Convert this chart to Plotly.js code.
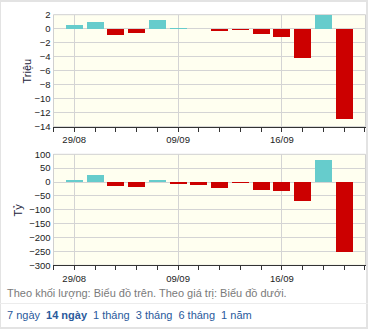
<!DOCTYPE html>
<html>
<head>
<meta charset="utf-8">
<script src="https://cdn.plot.ly/plotly-3.0.1.min.js"></script>
<style>
  html, body { margin: 0; padding: 0; background: #fff; }
  #wrap { position: relative; width: 368px; height: 329px; overflow: hidden; background: #fff;
          font-family: "Liberation Sans", Arial, sans-serif; }
  #chart { position: absolute; left: 0; top: 0; width: 368px; height: 329px; }
  .frame { position: absolute; background: #e3e3e3; }
  #note { position: absolute; left: 7px; top: 287px; font-size: 11px; color: #7a7a7a; white-space: nowrap; }
  #links { position: absolute; left: 7px; top: 309px; font-size: 11px; color: #2a5a9c; white-space: nowrap; }
  #links span { margin-right: 6px; }
  #links b { margin-right: 6px; }
</style>
</head>
<body>
<div id="wrap">
  <div id="chart"></div>
  <div class="frame" style="left:0;top:0;width:368px;height:2px;"></div>
  <div class="frame" style="left:0;top:0;width:1px;height:329px;"></div>
  <div class="frame" style="left:366px;top:0;width:2px;height:329px;"></div>
  <div class="frame" style="left:0;top:303px;width:368px;height:1px;background:#ececec;"></div>
  <div class="frame" style="left:0;top:327px;width:368px;height:2px;"></div>
  <div id="note">Theo khối lượng: Biểu đồ trên. Theo giá trị: Biểu đồ dưới.</div>
  <div id="links"><span>7 ngày</span><b>14 ngày</b><span>1 tháng</span><span>3 tháng</span><span>6 tháng</span><span>1 năm</span></div>
</div>
<script>
// ---- data ----
const dates = ['29/08','03/09','04/09','05/09','08/09','09/09','10/09','11/09','12/09','15/09','16/09','17/09','18/09','19/09'];
const labeledDates = ['29/08','09/09','16/09'];
const volumeMillions = [0.48, 0.91, -0.92, -0.55, 1.2, 0.15, -0.1, -0.38, -0.24, -0.82, -1.12, -4.13, 1.97, -12.93];
const valueBillions = [7, 25, -14, -18, 7, -7, -11, -21, -2, -28, -32, -68, 79, -252];
const volTitle = 'Triệu';
const valTitle = 'Tỷ';

// ---- styling ----
const POS = '#66cccc', NEG = '#cc0000';
const FONT = 'Liberation Sans, Arial, sans-serif';
const idx = dates.map((d, i) => i);
const colorsOf = arr => arr.map(v => v >= 0 ? POS : NEG);
const tickvals = labeledDates.map(d => dates.indexOf(d));

const traces = [
  { type: 'bar', x: idx, y: volumeMillions, xaxis: 'x', yaxis: 'y',
    marker: { color: colorsOf(volumeMillions), line: { width: 0 } }, width: 0.82, hoverinfo: 'skip' },
  { type: 'bar', x: idx, y: valueBillions, xaxis: 'x2', yaxis: 'y2',
    marker: { color: colorsOf(valueBillions), line: { width: 0 } }, width: 0.82, hoverinfo: 'skip' }
];

const W = 368, H = 329;
const xDom = [53.5 / W, 365.5 / W];
const y1Dom = [1 - 126.7 / H, 1 - 14.7 / H];
const y2Dom = [1 - 265.3 / H, 1 - 154.3 / H];

function xAxis(anchor) {
  return {
    domain: xDom, anchor: anchor, type: 'linear', range: [-1, 14.03], fixedrange: true,
    tickmode: 'array', tickvals: tickvals, ticktext: labeledDates,
    ticks: 'outside', ticklen: 4, tickcolor: '#333', tickwidth: 1,
    showgrid: true, gridcolor: '#d4d4d4', gridwidth: 1, zeroline: false,
    showline: true, linecolor: '#333', linewidth: 1, mirror: false,
    tickfont: { family: FONT, size: 9.5, color: '#222' },
    minor: { tickmode: 'linear', tick0: 0, dtick: 1, ticks: 'outside', ticklen: 4, tickcolor: '#333', showgrid: false }
  };
}
function yAxis(anchor, dom, range, dtick) {
  return {
    domain: dom, anchor: anchor, range: range, dtick: dtick, tick0: 0, fixedrange: true,
    ticks: '', showgrid: true, gridcolor: '#d4d4d4', gridwidth: 1,
    zeroline: true, zerolinecolor: '#d4d4d4', zerolinewidth: 1,
    showline: true, linecolor: '#d0d0d0', mirror: true,
    tickfont: { family: FONT, size: 9.5, color: '#222' }
  };
}
const titleFont = { family: FONT, size: 11, color: '#1a1a3a' };

const layout = {
  width: W, height: H,
  margin: { l: 0, r: 0, t: 0, b: 0, pad: 0 },
  paper_bgcolor: 'rgba(0,0,0,0)', plot_bgcolor: '#fffff0',
  showlegend: false, bargap: 0,
  xaxis: xAxis('y'),
  yaxis: yAxis('x', y1Dom, [-14, 2], 2),
  xaxis2: xAxis('y2'),
  yaxis2: yAxis('x2', y2Dom, [-300, 100], 50),
  annotations: [
    { text: volTitle, xref: 'paper', yref: 'paper', x: 26 / W, y: 1 - 70.5 / H, xanchor: 'center', yanchor: 'middle',
      textangle: -90, showarrow: false, font: titleFont },
    { text: valTitle, xref: 'paper', yref: 'paper', x: 17.5 / W, y: 1 - 210 / H, xanchor: 'center', yanchor: 'middle',
      textangle: -90, showarrow: false, font: titleFont }
  ],
  shapes: [
    { type: 'rect', xref: 'x domain', yref: 'y domain', x0: 0, x1: 1, y0: 0, y1: 1, line: { color: '#d0d0d0', width: 1 }, layer: 'below' },
    { type: 'rect', xref: 'x2 domain', yref: 'y2 domain', x0: 0, x1: 1, y0: 0, y1: 1, line: { color: '#d0d0d0', width: 1 }, layer: 'below' }
  ]
};

Plotly.newPlot('chart', traces, layout, { staticPlot: true, displayModeBar: false });
</script>
</body>
</html>
